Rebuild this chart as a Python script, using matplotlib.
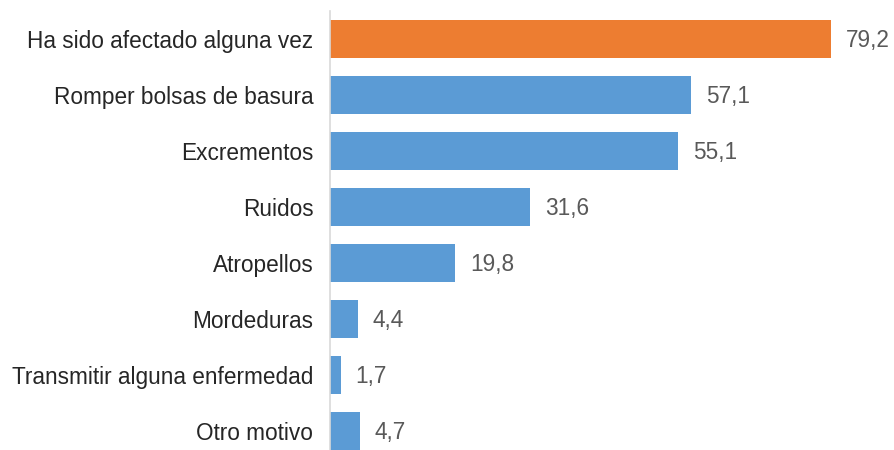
import matplotlib
matplotlib.use("Agg")
import matplotlib.pyplot as plt

categories = ["Ha sido afectado alguna vez", "Romper bolsas de basura", "Excrementos",
              "Ruidos", "Atropellos", "Mordeduras", "Transmitir alguna enfermedad", "Otro motivo"]
values = [79.2, 57.1, 55.1, 31.6, 19.8, 4.4, 1.7, 4.7]
colors = ["#ED7D31"] + ["#5B9BD5"] * 7

plt.rcParams['font.family'] = ['Liberation Sans', 'DejaVu Sans']

fig = plt.figure(figsize=(8.95, 4.5), dpi=100)
left_px, right_px = 330, 895
top_px, bot_px = 11, 450
ax = fig.add_axes([left_px / 895, 1 - bot_px / 450, (right_px - left_px) / 895, (bot_px - top_px) / 450])

y = list(range(len(categories)))
ax.barh(y, values, height=0.68, color=colors, zorder=2)
ax.set_xlim(0, (right_px - left_px) / 6.32)
ax.set_ylim(7.34, -0.5)

for yi, v in zip(y, values):
    ax.annotate(f"{v:.1f}".replace(".", ","), (v, yi), xytext=(15, -8), textcoords="offset pixels",
                va="baseline", ha="left", fontsize=16.3, color="#595959")

ax.set_yticks(y)
ax.set_yticklabels(categories, fontsize=16.3, color="#262626")
ax.tick_params(axis="y", length=0, pad=12)
ax.set_xticks([])
for s in ["top", "right", "bottom"]:
    ax.spines[s].set_visible(False)
ax.spines["left"].set_color("#D9D9D9")
ax.spines["left"].set_linewidth(1.2)

fig.savefig("out.png", dpi=100)
